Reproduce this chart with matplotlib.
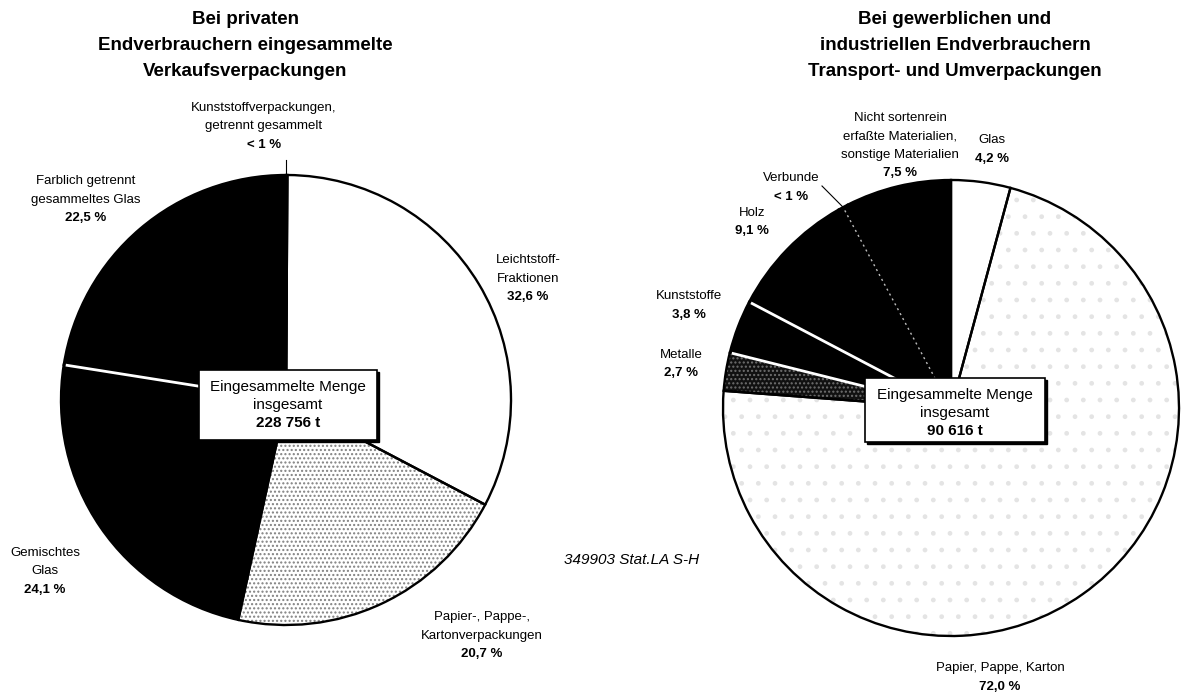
import numpy as np
import matplotlib.pyplot as plt
from matplotlib.patches import Rectangle

plt.rcParams['font.family'] = ['Liberation Sans', 'DejaVu Sans']
plt.rcParams['hatch.linewidth'] = 1.0

# private end consumers, clockwise from 12 o'clock
priv_labels = ['Kunststoffverpackungen,\ngetrennt gesammelt', 'Leichtstoff-\nFraktionen',
               'Papier-, Pappe-,\nKartonverpackungen', 'Gemischtes\nGlas',
               'Farblich getrennt\ngesammeltes Glas']
priv_values = [0.1, 32.6, 20.7, 24.1, 22.5]
priv_texts = ['< 1 %', '32,6 %', '20,7 %', '24,1 %', '22,5 %']
priv_total = '228 756 t'

# commercial / industrial end consumers, clockwise from 12 o'clock
comm_labels = ['Glas', 'Papier, Pappe, Karton', 'Metalle', 'Kunststoffe', 'Holz',
               'Verbunde', 'Nicht sortenrein\nerfaßte Materialien,\nsonstige Materialien']
comm_values = [4.2, 72.0, 2.7, 3.8, 9.1, 0.7, 7.5]
comm_texts = ['4,2 %', '72,0 %', '2,7 %', '3,8 %', '9,1 %', '< 1 %', '7,5 %']
comm_total = '90 616 t'

W, H = 1185, 696
fig = plt.figure(figsize=(W / 100, H / 100), dpi=100)
ax = fig.add_axes([0, 0, 1, 1])


def Y(p):
    return H - p


def boundary_angles(values):
    # angle (deg) of each wedge's end edge, pie runs clockwise from the top
    cum = np.cumsum(values) / np.sum(values)
    return 90 - 360 * cum


def mid_angle(values, i):
    return 90 - 360 * (np.sum(values[:i]) + values[i] / 2) / np.sum(values)


def draw_pie(values, center, radius, styles, white_edges=(), dotted_mid=()):
    c = (center[0], Y(center[1]))
    wedges, _ = ax.pie(values, startangle=90, counterclock=False, center=c, radius=radius,
                       frame=True, wedgeprops=dict(linewidth=0))
    for w, (fc, hatch, hc) in zip(wedges, styles):
        w.set_facecolor(fc)
        if hatch:
            w.set_hatch(hatch)
            w.set_edgecolor(hc)
    # outlines on top of the fills
    ax.pie(values, startangle=90, counterclock=False, center=c, radius=radius, frame=True,
           wedgeprops=dict(fill=False, edgecolor='black', linewidth=1.7))
    ang = np.deg2rad(boundary_angles(values))
    for i in white_edges:
        ax.plot([c[0], c[0] + radius * 0.985 * np.cos(ang[i])],
                [c[1], c[1] + radius * 0.985 * np.sin(ang[i])], color='white', lw=2)
    for i in dotted_mid:
        a = np.deg2rad(mid_angle(values, i))
        ax.plot([c[0], c[0] + radius * 0.985 * np.cos(a)],
                [c[1], c[1] + radius * 0.985 * np.sin(a)], color='#bbbbbb', lw=1,
                linestyle=(0, (1.5, 2.5)))
    return c


def total_box(x0, y0, x1, y1, total):
    ax.add_patch(Rectangle((x0 + 2, Y(y1) - 2), x1 - x0, y1 - y0, facecolor='black',
                           edgecolor='black', zorder=5))
    ax.add_patch(Rectangle((x0, Y(y1)), x1 - x0, y1 - y0, facecolor='white',
                           edgecolor='black', lw=1.2, zorder=6))
    xc = (x0 + x1) / 2
    for k, (s, fw) in enumerate([('Eingesammelte Menge', 'normal'), ('insgesamt', 'normal'),
                                 (total, 'bold')]):
        ax.text(xc, Y(y0 + 17 + 18 * k), s, ha='center', va='center', fontsize=11,
                fontweight=fw, zorder=7)


def label(x, y, name, pct, size=9.5, step=18.5):
    lines = name.split('\n')
    for k, s in enumerate(lines):
        ax.text(x, Y(y + step * k), s, ha='center', va='center', fontsize=size)
    ax.text(x, Y(y + step * len(lines)), pct, ha='center', va='center', fontsize=size,
            fontweight='bold')


def title(x, text):
    for k, s in enumerate(text.split('\n')):
        ax.text(x, Y(19 + 26 * k), s, ha='center', va='center', fontsize=13.5,
                fontweight='bold')


# left pie
priv_styles = [('white', None, None), ('white', None, None),
               ('white', '....', '#808080'), ('black', None, None), ('black', None, None)]
lc = draw_pie(priv_values, (286, 400), 225, priv_styles, white_edges=[3])

title(245, 'Bei privaten\nEndverbrauchern eingesammelte\nVerkaufsverpackungen')

label(264, 108, priv_labels[0], priv_texts[0])
ax.plot([lc[0], lc[0]], [Y(160), Y(178)], color='black', lw=0.8)
label(528, 260, priv_labels[1], priv_texts[1])
label(482, 617, priv_labels[2], priv_texts[2])
label(45, 553, priv_labels[3], priv_texts[3])
label(86, 181, priv_labels[4], priv_texts[4])

total_box(199, 370, 377, 440, priv_total)

# right pie
comm_styles = [('white', None, None), ('white', '.', '#e4e4e4'), ('#111111', '....', '#707070'),
               ('black', None, None), ('black', None, None), ('black', None, None),
               ('black', None, None)]
rc = draw_pie(comm_values, (951, 408), 228, comm_styles, white_edges=[2, 3],
              dotted_mid=[5])

title(955, 'Bei gewerblichen und\nindustriellen Endverbrauchern\nTransport- und Umverpackungen')

label(992, 140, comm_labels[0], comm_texts[0])
label(1000, 668, comm_labels[1], comm_texts[1])
label(681, 355, comm_labels[2], comm_texts[2])
label(689, 296, comm_labels[3], comm_texts[3])
label(752, 213, comm_labels[4], comm_texts[4])
label(791, 178, comm_labels[5], comm_texts[5])
label(900, 118, comm_labels[6], comm_texts[6])

# leader line to the Verbunde wedge
a = np.deg2rad(mid_angle(comm_values, 5))
ax.plot([822, rc[0] + 228 * np.cos(a)], [Y(186), rc[1] + 228 * np.sin(a)], color='black', lw=0.8)

total_box(865, 378, 1045, 442, comm_total)

ax.text(632, Y(560), '349903 Stat.LA S-H', ha='center', va='center', fontsize=11,
        style='italic')

ax.set_xlim(0, W)
ax.set_ylim(0, H)
ax.set_aspect('auto')
ax.axis('off')
fig.savefig('out.png', dpi=100)
